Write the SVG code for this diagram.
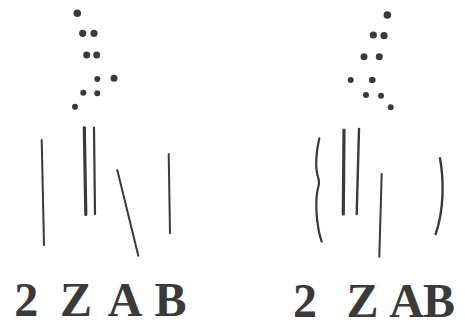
<svg xmlns="http://www.w3.org/2000/svg" width="465" height="323" viewBox="0 0 465 323">
<style>
.dot{fill:#3a3a3a}
.ln{stroke:#3a3a3a;stroke-linecap:round;fill:none}
.t{font-family:"Liberation Serif",serif;font-weight:bold;font-size:48px;fill:#3a3a3a;text-anchor:middle}
</style>
<rect width="465" height="323" fill="#fff"/>
<g id="left-dots">
<circle class="dot" cx="77.3" cy="13.3" r="3.8"/>
<circle class="dot" cx="82.7" cy="33.3" r="3.6"/>
<circle class="dot" cx="94" cy="33.3" r="3.6"/>
<circle class="dot" cx="86.7" cy="55" r="3.5"/>
<circle class="dot" cx="96.7" cy="55" r="3.5"/>
<circle class="dot" cx="97.3" cy="79" r="3"/>
<circle class="dot" cx="114" cy="78.3" r="3.5"/>
<circle class="dot" cx="83.3" cy="92.7" r="3"/>
<circle class="dot" cx="97.3" cy="93.3" r="3"/>
<circle class="dot" cx="75" cy="106.7" r="3"/>
</g>
<g id="right-dots">
<circle class="dot" cx="387.3" cy="15" r="3.8"/>
<circle class="dot" cx="373.3" cy="35" r="3.6"/>
<circle class="dot" cx="384" cy="35.7" r="3.6"/>
<circle class="dot" cx="364" cy="56.7" r="3.5"/>
<circle class="dot" cx="379.3" cy="56.7" r="3.5"/>
<circle class="dot" cx="350.7" cy="80" r="3"/>
<circle class="dot" cx="372.3" cy="80" r="3.3"/>
<circle class="dot" cx="366" cy="95" r="3"/>
<circle class="dot" cx="381" cy="95.7" r="3"/>
<circle class="dot" cx="390.7" cy="107.3" r="3"/>
</g>
<g id="left-lines">
<line class="ln" x1="41.7" y1="140" x2="44" y2="245" stroke-width="2"/>
<line class="ln" x1="84.3" y1="127.5" x2="85.8" y2="214.5" stroke-width="3.2"/>
<line class="ln" x1="94" y1="127.5" x2="95" y2="214" stroke-width="2.2"/>
<line class="ln" x1="117.3" y1="170" x2="138.3" y2="255.7" stroke-width="2"/>
<line class="ln" x1="168.7" y1="154" x2="170" y2="233.3" stroke-width="2"/>
</g>
<g id="right-lines">
<path class="ln" d="M319.3,138.3 C316,152 315,168 318,177 Q320,182 318,188 C315,200 316,225 321.7,241.7" stroke-width="2.2"/>
<line class="ln" x1="344" y1="130" x2="343.3" y2="214" stroke-width="3.2"/>
<line class="ln" x1="359" y1="129" x2="356.7" y2="214" stroke-width="2.4"/>
<line class="ln" x1="381.7" y1="174" x2="379.3" y2="256.7" stroke-width="2"/>
<path class="ln" d="M440,158.3 C444,180 444,210 435.7,234" stroke-width="2.4"/>
</g>
<g id="left-label">
<text class="t" x="26.3" y="316">2</text>
<text class="t" x="76" y="316">Z</text>
<text class="t" x="125" y="316">A</text>
<text class="t" x="170.5" y="316">B</text>
</g>
<g id="right-label">
<text class="t" x="305" y="317">2</text>
<text class="t" x="362.5" y="317">Z</text>
<text class="t" x="406.7" y="317">A</text>
<text class="t" x="439" y="317">B</text>
</g>
</svg>
